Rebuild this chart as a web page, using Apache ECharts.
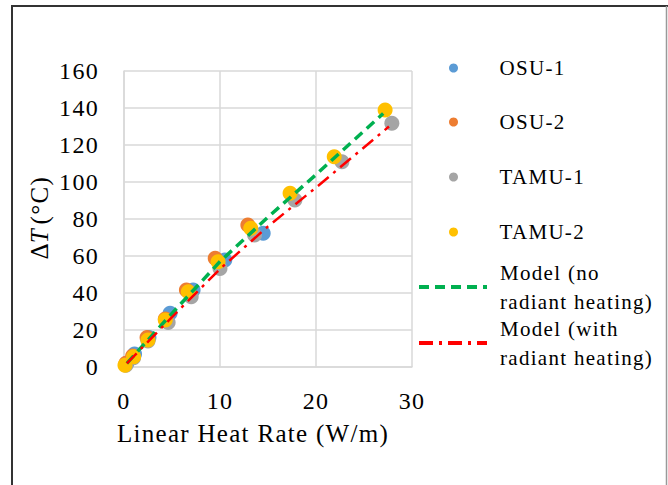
<!DOCTYPE html>
<html><head><meta charset="utf-8">
<script src="https://cdn.jsdelivr.net/npm/echarts@6/dist/echarts.min.js"></script>
<style>
html,body{margin:0;padding:0;background:#fff;}
#chart{width:668px;height:485px;}
#chart text{letter-spacing:1.3px;}
</style></head>
<body><div id="chart"></div>
<script>
// ---- data ----
const seriesNames = ['OSU-1','OSU-2','TAMU-1','TAMU-2','Model (no radiant heating)','Model (with radiant heating)'];
const osu1X = [0.3, 1.1, 2.6, 4.8, 7.2, 10.5, 14.5];
const osu1Y = [2, 7, 16, 29, 41.6, 57.8, 72.3];
const osu2X = [0.2, 0.9, 2.4, 4.3, 6.5, 9.5, 12.9];
const osu2Y = [2, 6, 16, 26, 41.6, 58.8, 76.8];
const tamu1X = [0.2, 1.0, 2.5, 4.6, 7.0, 10.0, 13.6, 17.8, 22.7, 27.9];
const tamu1Y = [1, 5, 14, 24, 38, 53.3, 71.4, 90.3, 111, 131.7];
const tamu2X = [0.1, 1.0, 2.5, 4.3, 6.7, 9.8, 13.2, 17.3, 21.9, 27.2];
const tamu2Y = [1, 5.6, 14.6, 25.4, 40.7, 56.9, 75, 93.9, 113.7, 138.9];
const modelNoX = [0.3, 5, 10, 15, 20, 27];
const modelNoY = [2, 29, 57, 81, 104, 137];
const modelWithX = [0.3, 5, 10, 15, 20, 27.6];
const modelWithY = [2, 27, 53, 76, 97, 130];
const xTicks = [0, 10, 20, 30];
const yTicks = [0, 20, 40, 60, 80, 100, 120, 140, 160];

const pair = (xs, ys) => xs.map((x, i) => [x, ys[i]]);
const FONT = 'Liberation Serif, Times New Roman, serif';
const colors = ['#5B9BD5', '#ED7D31', '#A5A5A5', '#FFC000', '#00B050', '#FF0000'];

const chart = echarts.init(document.getElementById('chart'), null, {renderer: 'svg'});

const legendCenters = [68, 122, 177, 232, 287, 343];
const legendNames = ['OSU-1','OSU-2','TAMU-1','TAMU-2','Model (no\nradiant heating)','Model (with\nradiant heating)'];
const legends = seriesNames.map((n, i) => {
  const multi = i >= 4;
  return {
    data: [multi ? {name: n, itemStyle: {opacity: 0}} : n],
    orient: 'vertical',
    left: multi ? 417 : 449,
    top: multi ? legendCenters[i] - 43.5 : legendCenters[i] - 14.5,
    padding: 0,
    itemWidth: 68,
    itemHeight: 9,
    lineStyle: multi ? {width: 4} : undefined,
    formatter: () => legendNames[i],
    textStyle: {
      fontFamily: FONT, fontSize: 21, color: '#000', lineHeight: 29,
      padding: multi ? [29, 0, 0, 8] : [0, 0, 0, 7]
    }
  };
});

const scatter = (name, xs, ys, c) => ({
  name, type: 'scatter', data: pair(xs, ys), symbolSize: 15,
  itemStyle: {color: c, opacity: 1}
});

chart.setOption({
  animation: false,
  backgroundColor: '#fff',
  color: colors,
  grid: {left: 124, right: 256, top: 71, bottom: 118},
  legend: legends,
  xAxis: {
    type: 'value', min: xTicks[0], max: xTicks[xTicks.length - 1], interval: 10,
    name: 'Linear Heat Rate (W/m)', nameLocation: 'middle', nameGap: 54,
    nameTextStyle: {fontFamily: FONT, fontSize: 25, color: '#000', padding: [0, 30, 0, 0]},
    axisLine: {show: true, lineStyle: {color: '#d9d9d9', width: 1.5}},
    axisTick: {show: false},
    axisLabel: {fontFamily: FONT, fontSize: 24, color: '#000', margin: 22},
    splitLine: {show: true, lineStyle: {color: '#d9d9d9', width: 1.5}}
  },
  yAxis: {
    type: 'value', min: yTicks[0], max: yTicks[yTicks.length - 1], interval: 20,
    name: '{n|Δ}{i|T}{n| (°C)}', nameLocation: 'middle', nameGap: 72, nameRotate: 90,
    nameTextStyle: {
      fontFamily: FONT, fontSize: 25, color: '#000',
      rich: {n: {fontFamily: FONT, fontSize: 25, color: '#000'},
             i: {fontFamily: FONT, fontSize: 25, color: '#000', fontStyle: 'italic'}}
    },
    axisLine: {show: true, lineStyle: {color: '#d9d9d9', width: 1.5}},
    axisTick: {show: false},
    axisLabel: {fontFamily: FONT, fontSize: 24, color: '#000', margin: 25},
    splitLine: {show: true, lineStyle: {color: '#d9d9d9', width: 1.5}}
  },
  series: [
    scatter(seriesNames[0], osu1X, osu1Y, colors[0]),
    scatter(seriesNames[1], osu2X, osu2Y, colors[1]),
    scatter(seriesNames[2], tamu1X, tamu1Y, colors[2]),
    scatter(seriesNames[3], tamu2X, tamu2Y, colors[3]),
    {name: seriesNames[4], type: 'line', data: pair(modelNoX, modelNoY), symbol: 'none',
     lineStyle: {color: colors[4], width: 3.5, type: [10, 6]}, itemStyle: {color: colors[4]}},
    {name: seriesNames[5], type: 'line', data: pair(modelWithX, modelWithY), symbol: 'none',
     lineStyle: {color: colors[5], width: 2.5, type: [14, 6, 3, 6]}, itemStyle: {color: colors[5]}}
  ],
  graphic: [
    {type: 'line', shape: {x1: 12, y1: 6, x2: 12, y2: 490}, style: {stroke: '#333', lineWidth: 2}},
    {type: 'line', shape: {x1: 11, y1: 6, x2: 668, y2: 6}, style: {stroke: '#333', lineWidth: 2}},
    {type: 'line', shape: {x1: 666.5, y1: 6, x2: 666.5, y2: 490}, style: {stroke: '#999', lineWidth: 1.5}}
  ]
});
</script></body></html>
